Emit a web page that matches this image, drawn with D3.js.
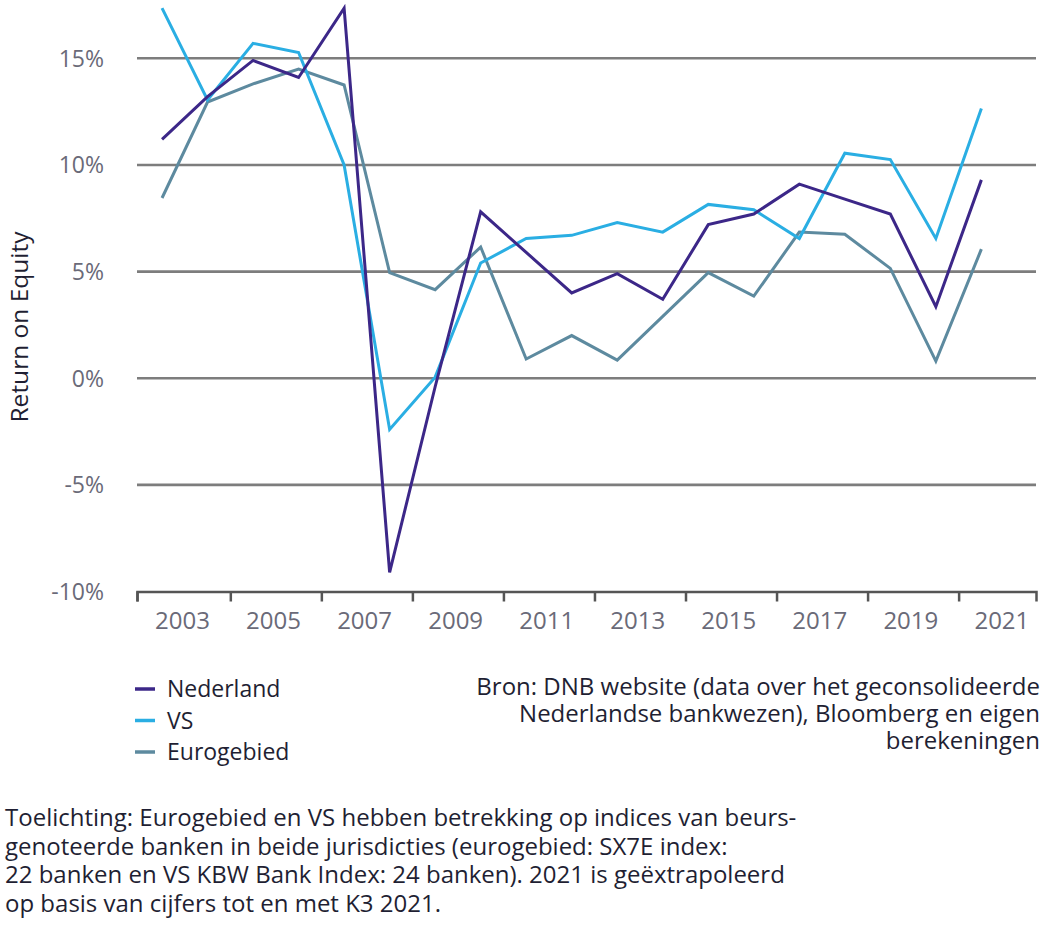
<!DOCTYPE html>
<html>
<head>
<meta charset="utf-8">
<script src="https://cdn.jsdelivr.net/npm/d3@7"></script>
<style>
  html, body { margin: 0; padding: 0; background: #fff; }
  svg { display: block; font-family: "Open Sans", "DejaVu Sans", sans-serif; }
</style>
</head>
<body>
<svg id="chart" width="1052" height="933"></svg>
<script>
const years = [2003,2004,2005,2006,2007,2008,2009,2010,2011,2012,2013,2014,2015,2016,2017,2018,2019,2020,2021];
const nederland = [11.2,13.2,14.9,14.1,17.35,-9.1,-0.4,7.8,5.9,4.0,4.9,3.7,7.2,7.7,9.1,8.4,7.7,3.35,9.3];
const vs = [17.35,13.05,15.7,15.27,10.0,-2.4,0.05,5.4,6.55,6.7,7.3,6.85,8.15,7.9,6.55,10.55,10.25,6.55,12.65];
const eurogebied = [8.45,12.95,13.8,14.5,13.75,4.95,4.15,6.15,0.9,2.0,0.85,2.9,4.95,3.85,6.85,6.75,5.15,0.8,6.05];
const yTicks = [15,10,5,0,-5];
const yTickLabels = ["15%","10%","5%","0%","-5%","-10%"];
const yTickValues = [15,10,5,0,-5,-10];
const xTickLabels = ["2003","2005","2007","2009","2011","2013","2015","2017","2019","2021"];
const seriesNames = ["Nederland","VS","Eurogebied"];
const seriesColors = ["#3c2788","#2aaee3","#5d8a9f"];
const sourceLines = ["Bron: DNB website (data over het geconsolideerde","Nederlandse bankwezen), Bloomberg en eigen","berekeningen"];
const noteLines = ["Toelichting: Eurogebied en VS hebben betrekking op indices van beurs-","genoteerde banken in beide jurisdicties (eurogebied: SX7E index:","22 banken en VS KBW Bank Index: 24 banken). 2021 is geëxtrapoleerd","op basis van cijfers tot en met K3 2021."];

const svg = d3.select("#chart");
const x = d3.scaleLinear().domain([2002.45, 2022.2]).range([137, 1036]);
const y = d3.scaleLinear().domain([-10, 15]).range([591.5, 58.3]);

// gridlines
svg.append("g").selectAll("line").data(yTicks).join("line")
  .attr("x1", x(2002.45)).attr("x2", x(2022.2))
  .attr("y1", d => y(d)).attr("y2", d => y(d))
  .attr("stroke", "#7d7d7d").attr("stroke-width", 2.6);

// y tick labels
svg.append("g").selectAll("text").data(yTickValues).join("text")
  .attr("x", 104).attr("y", d => y(d)).attr("dy", "0.36em")
  .attr("text-anchor", "end").attr("font-size", 23).attr("fill", "#6a6a78")
  .text((d, i) => yTickLabels[i]);

// x axis
const tickPositions = [2002.45].concat(d3.range(2004.5, 2021, 2));
const xAxis = d3.axisBottom(x).tickValues(tickPositions).tickSize(10).tickFormat("");
const gx = svg.append("g").attr("transform", `translate(0,${y(-10)})`).call(xAxis);
gx.select(".domain").attr("stroke", "#555").attr("stroke-width", 2.5);
gx.selectAll(".tick line").attr("stroke", "#555").attr("stroke-width", 2.5);

svg.append("g").selectAll("text").data(xTickLabels).join("text")
  .attr("x", d => x(+d + 0.45)).attr("y", 629)
  .attr("text-anchor", "middle").attr("font-size", 24).attr("fill", "#6a6a78")
  .text(d => d);

// y title
svg.append("text")
  .attr("transform", "translate(28,327) rotate(-90)")
  .attr("text-anchor", "middle").attr("font-size", 24.5).attr("fill", "#1f1f33")
  .text("Return on Equity");

// lines
const seriesData = [nederland, vs, eurogebied];
const line = d3.line().x((d, i) => x(years[i])).y(d => y(d));
[2, 1, 0].forEach(k => {
  svg.append("path").datum(seriesData[k])
    .attr("fill", "none").attr("stroke", seriesColors[k])
    .attr("stroke-width", 3).attr("stroke-linejoin", "miter")
    .attr("d", line);
});

// legend
const lg = svg.append("g");
seriesNames.forEach((name, i) => {
  const cy = 689 + i * 31.5;
  lg.append("line").attr("x1", 135).attr("x2", 155).attr("y1", cy).attr("y2", cy)
    .attr("stroke", seriesColors[i]).attr("stroke-width", 3.5);
  lg.append("text").attr("x", 167).attr("y", cy + 8)
    .attr("font-size", 23).attr("fill", "#1f1f33").text(name);
});

// source
svg.append("g").selectAll("text").data(sourceLines).join("text")
  .attr("x", 1040).attr("y", (d, i) => 695 + i * 27)
  .attr("text-anchor", "end").attr("font-size", 24).attr("fill", "#1f1f33")
  .text(d => d);

// note
svg.append("g").selectAll("text").data(noteLines).join("text")
  .attr("x", 5).attr("y", (d, i) => 826 + i * 28.5)
  .attr("font-size", 24).attr("fill", "#1f1f33")
  .text(d => d);
</script>
</body>
</html>
